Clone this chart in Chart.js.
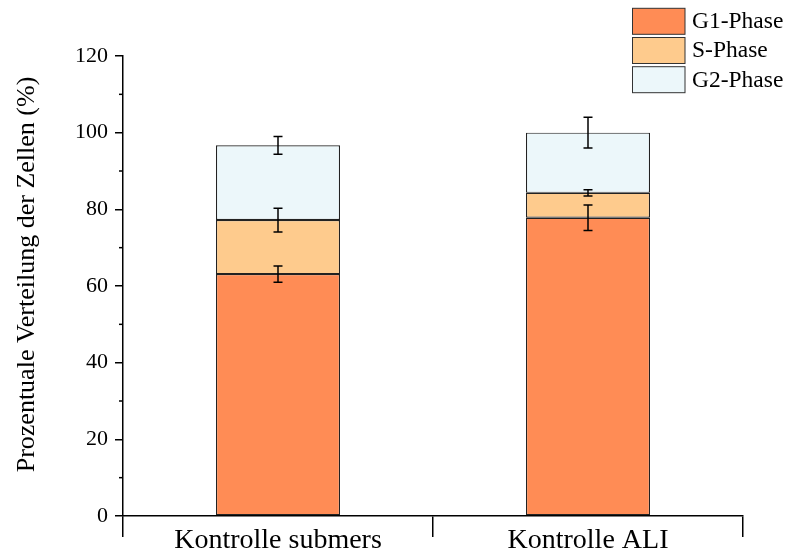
<!DOCTYPE html>
<html>
<head>
<meta charset="utf-8">
<script src="https://cdn.jsdelivr.net/npm/chart.js@4/dist/chart.umd.min.js"></script>
<style>
  html, body { margin: 0; padding: 0; background: #fff; }
  #wrap { width: 785px; height: 551px; position: relative; }
</style>
</head>
<body>
<div id="wrap"><canvas id="c"></canvas></div>
<script>
// Cell cycle distribution (%) per condition
const categories = ['Kontrolle submers', 'Kontrolle ALI'];
const phaseNames = ['G1-Phase', 'S-Phase', 'G2-Phase'];
const g1Values = [63.1, 77.8];
const sValues  = [14.1, 6.5];
const g2Values = [19.5, 15.7];
const g1Errors = [2.1, 3.3];
const sErrors  = [3.1, 0.8];
const g2Errors = [2.3, 4.0];
const yTicks = [0, 20, 40, 60, 80, 100, 120];
const yMinorTicks = [10, 30, 50, 70, 90, 110];
const yTitle = 'Prozentuale Verteilung der Zellen (%)';

const phaseColors = ['#FF8C55', '#FECB8D', '#ECF7FA'];
const serif = "'Liberation Serif', 'Times New Roman', serif";

const seriesValues = [g1Values, sValues, g2Values];
const seriesErrors = [g1Errors, sErrors, g2Errors];

// Error bars at the top of each stacked segment
const errorBarPlugin = {
  id: 'errorBars',
  afterDatasetsDraw(chart) {
    const ctx = chart.ctx;
    const y = chart.scales.y;
    ctx.save();
    ctx.strokeStyle = '#000';
    ctx.lineWidth = 1.5;
    chart.data.datasets.forEach((ds, i) => {
      const meta = chart.getDatasetMeta(i);
      meta.data.forEach((bar, j) => {
        let top = 0;
        for (let k = 0; k <= i; k++) top += seriesValues[k][j];
        const err = seriesErrors[i][j];
        const yHi = y.getPixelForValue(top + err);
        const yLo = y.getPixelForValue(top - err);
        const x = bar.x;
        const cap = 4.5;
        ctx.beginPath();
        ctx.moveTo(x, yHi); ctx.lineTo(x, yLo);
        ctx.moveTo(x - cap, yHi); ctx.lineTo(x + cap, yHi);
        ctx.moveTo(x - cap, yLo); ctx.lineTo(x + cap, yLo);
        ctx.stroke();
      });
    });
    ctx.restore();
  }
};

// Minor ticks, rotated y title and the boxed legend
const decorPlugin = {
  id: 'decor',
  afterDraw(chart) {
    const ctx = chart.ctx;
    const y = chart.scales.y;
    const left = chart.chartArea.left;
    ctx.save();
    ctx.strokeStyle = '#000';
    ctx.lineWidth = 1.5;
    yMinorTicks.forEach(v => {
      const py = y.getPixelForValue(v);
      ctx.beginPath();
      ctx.moveTo(left - 4, py); ctx.lineTo(left, py);
      ctx.stroke();
    });

    ctx.fillStyle = '#000';
    ctx.font = '26px ' + serif;
    ctx.textAlign = 'center';
    ctx.textBaseline = 'alphabetic';
    ctx.translate(34, 274.5);
    ctx.rotate(-Math.PI / 2);
    ctx.fillText(yTitle, 0, 0);
    ctx.setTransform(1, 0, 0, 1, 0, 0);

    ctx.font = '23.5px ' + serif;
    ctx.textAlign = 'left';
    chart.data.datasets.forEach((ds, i) => {
      const by = 8.3 + i * 29.2;
      ctx.fillStyle = ds.backgroundColor;
      ctx.fillRect(632.5, by, 52.5, 26);
      ctx.strokeStyle = '#333';
      ctx.lineWidth = 1;
      ctx.strokeRect(632.5, by, 52.5, 26);
      ctx.fillStyle = '#000';
      ctx.fillText(ds.label, 692, by + 19.8);
    });
    ctx.restore();
  }
};

const datasets = phaseNames.map((name, i) => ({
  label: name,
  data: seriesValues[i],
  backgroundColor: phaseColors[i],
  borderColor: '#222',
  borderWidth: 1.2,
  borderSkipped: false,
  categoryPercentage: 1.0,
  barPercentage: 0.4
}));

new Chart(document.getElementById('c'), {
  type: 'bar',
  data: { labels: categories, datasets },
  options: {
    responsive: true,
    maintainAspectRatio: false,
    animation: false,
    devicePixelRatio: 1,
    layout: { padding: { left: 0, right: 42, top: 56, bottom: 0 } },
    plugins: { legend: { display: false }, tooltip: { enabled: false } },
    scales: {
      x: {
        stacked: true,
        offset: true,
        grid: {
          offset: true,
          drawOnChartArea: false,
          drawTicks: true,
          tickLength: 21,
          color: '#000',
          lineWidth: 1.5
        },
        border: { display: true, color: '#000', width: 1.5 },
        ticks: {
          color: '#000',
          font: { family: serif, size: 28 },
          padding: -13,
          maxRotation: 0
        },
        afterFit(s) { s.height = 35; }
      },
      y: {
        stacked: true,
        min: 0,
        max: 120,
        afterBuildTicks(s) { s.ticks = yTicks.map(v => ({ value: v })); },
        grid: {
          drawOnChartArea: false,
          drawTicks: true,
          tickLength: 8,
          color: '#000',
          lineWidth: 1.5
        },
        border: { display: true, color: '#000', width: 1.5 },
        ticks: {
          color: '#000',
          font: { family: serif, size: 22 },
          padding: 7
        },
        afterFit(s) { s.width = 123; }
      }
    }
  },
  plugins: [errorBarPlugin, decorPlugin]
});
</script>
</body>
</html>
